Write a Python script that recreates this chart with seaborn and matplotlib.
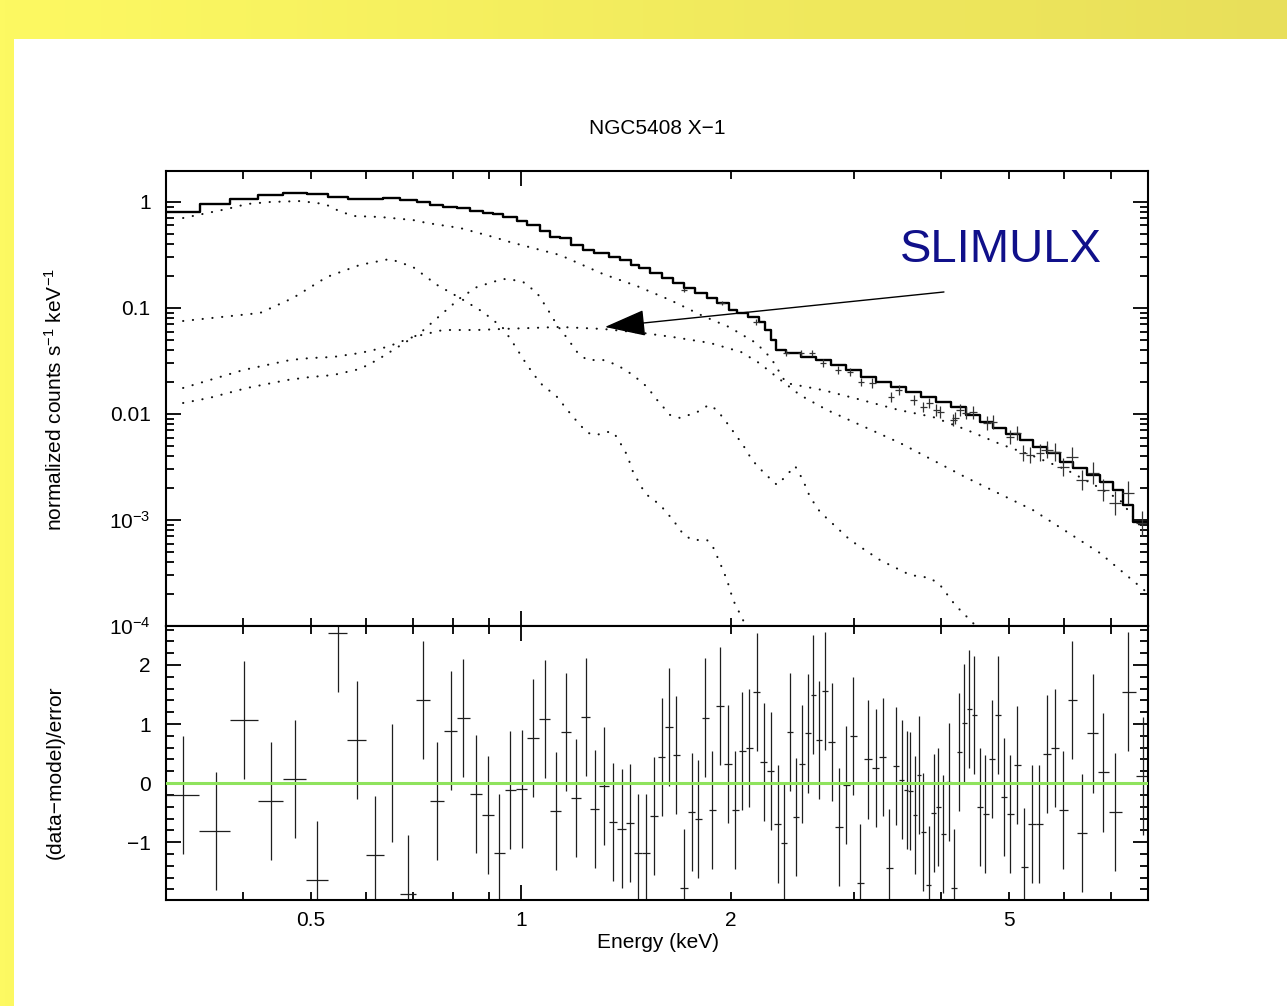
import numpy as np
import pandas as pd
import matplotlib
matplotlib.use("Agg")
import matplotlib.pyplot as plt
import seaborn as sns
from matplotlib.ticker import FixedLocator, FixedFormatter, FuncFormatter, MultipleLocator, NullFormatter
from matplotlib.patches import Rectangle
from matplotlib.colors import LinearSegmentedColormap

# ---------------- data ----------------
# total model, step histogram: bin edges (keV) and values (counts/s/keV)
total_edges = [0.310, 0.347, 0.383, 0.420, 0.456, 0.4935, 0.529, 0.565, 0.634, 0.671,
               0.710, 0.741, 0.773, 0.810, 0.845, 0.882, 0.912, 0.942, 0.987, 1.020,
               1.065, 1.100, 1.137, 1.179, 1.227, 1.272, 1.337, 1.386, 1.437, 1.476,
               1.530, 1.592, 1.651, 1.713, 1.775, 1.847, 1.909, 1.986, 2.039, 2.115,
               2.193, 2.237, 2.281, 2.319, 2.397, 2.518, 2.647, 2.781, 2.922, 3.070,
               3.226, 3.389, 3.561, 3.742, 3.932, 4.130, 4.340, 4.546, 4.746, 4.953,
               5.187, 5.414, 5.670, 5.918, 6.177, 6.468, 6.752, 7.047, 7.285, 7.530, 7.912]
total_values = [0.805, 0.957, 1.07, 1.16, 1.22, 1.19, 1.11, 1.07, 1.09, 1.04,
                1.0, 0.937, 0.897, 0.878, 0.823, 0.788, 0.770, 0.722, 0.662, 0.607,
                0.533, 0.468, 0.457, 0.393, 0.353, 0.330, 0.303, 0.284, 0.255, 0.239,
                0.214, 0.192, 0.172, 0.154, 0.138, 0.124, 0.111, 0.0959, 0.0897, 0.0822,
                0.0738, 0.0620, 0.0499, 0.0402, 0.0376, 0.0345, 0.0323, 0.0290, 0.0260, 0.0223,
                0.0201, 0.0180, 0.0161, 0.0145, 0.0130, 0.0116, 0.0098, 0.00841, 0.00743, 0.00648,
                0.00569, 0.00489, 0.00429, 0.00353, 0.0031, 0.00266, 0.00228, 0.00192, 0.00139, 0.00095]

# model components (dotted)
compA_E = [0.328, 0.379, 0.405, 0.437, 0.482, 0.510, 0.527, 0.545, 0.574, 0.628, 0.700, 0.733,
           0.818, 0.912, 0.964, 1.137, 1.311, 1.466, 1.635, 1.822, 1.986, 2.171, 2.281, 2.397,
           2.708, 3.070, 3.479, 3.893, 4.355, 4.857, 5.414, 6.056, 6.752, 7.214, 7.834]
compA_V = [0.706, 0.859, 0.957, 1.0, 1.02, 0.979, 0.937, 0.840, 0.738, 0.722, 0.676, 0.634,
           0.568, 0.468, 0.419, 0.316, 0.209, 0.161, 0.119, 0.0841, 0.0662, 0.0468, 0.0337, 0.0196,
           0.0168, 0.0136, 0.0109, 0.00937, 0.00706, 0.00521, 0.00402, 0.00296, 0.00200, 0.00154, 0.00077]

slim_E = [0.328, 0.358, 0.400, 0.467, 0.4985, 0.538, 0.588, 0.643, 0.700, 0.773, 0.865, 0.942,
          1.137, 1.311, 1.496, 1.651, 1.865, 2.066, 2.193, 2.334, 2.510, 2.745, 3.491, 4.355,
          5.414, 6.752, 7.834]
slim_V = [0.0176, 0.0209, 0.0260, 0.0323, 0.0337, 0.0345, 0.0376, 0.0429, 0.0532, 0.0620, 0.0620, 0.0634,
          0.0662, 0.0634, 0.0581, 0.0532, 0.0468, 0.0385, 0.0303, 0.0219, 0.0151, 0.0109, 0.00533, 0.00249,
          0.00124, 0.000488, 0.000215]

compB_E = [0.328, 0.4227, 0.471, 0.527, 0.588, 0.649, 0.700, 0.758, 0.818, 0.882, 0.942, 0.974,
           1.020, 1.065, 1.126, 1.175, 1.215, 1.247, 1.285, 1.319, 1.355, 1.377, 1.419, 1.447,
           1.491, 1.516, 1.582, 1.651, 1.707, 1.758, 1.847, 1.884, 1.928, 1.973, 2.013, 2.080, 2.13]
compB_V = [0.0754, 0.0897, 0.124, 0.196, 0.255, 0.290, 0.244, 0.165, 0.124, 0.0917, 0.0648, 0.0468,
           0.029, 0.0196, 0.0145, 0.0102, 0.00787, 0.00662, 0.00634, 0.00676, 0.00676, 0.00581, 0.0041, 0.00284,
           0.0020, 0.00172, 0.00139, 0.0010, 0.000738, 0.000648, 0.000648, 0.000556, 0.000393, 0.000272,
           0.000176, 0.000114, 0.000074]

compC_E = [0.328, 0.358, 0.405, 0.462, 0.4985, 0.538, 0.588, 0.622, 0.656, 0.717, 0.773, 0.818,
           0.865, 0.942, 0.974, 1.007, 1.054, 1.089, 1.126, 1.164, 1.203, 1.243, 1.311, 1.373,
           1.447, 1.516, 1.566, 1.635, 1.690, 1.787, 1.859, 1.909, 1.973, 2.080, 2.143, 2.229,
           2.327, 2.374, 2.470, 2.535, 2.594, 2.682, 2.961, 3.268, 3.609, 3.855, 3.984, 4.187, 4.472, 4.70]
compC_V = [0.0127, 0.0142, 0.0176, 0.0209, 0.0223, 0.0233, 0.0266, 0.0323, 0.0402, 0.0581, 0.0897, 0.124,
           0.158, 0.188, 0.184, 0.176, 0.139, 0.100, 0.0691, 0.0521, 0.0385, 0.0323, 0.0323, 0.0290,
           0.0233, 0.0180, 0.0136, 0.0098, 0.00917, 0.0104, 0.0122, 0.0109, 0.00822, 0.0051, 0.00368, 0.00278,
           0.00214, 0.00244, 0.00323, 0.00238, 0.00165, 0.00119, 0.000648, 0.000419, 0.000303, 0.000284,
           0.000244, 0.000158, 0.000102, 0.000075]

# data points visible in the upper panel
data_E = [1.713, 1.941, 2.171, 2.397, 2.518, 2.612, 2.708, 2.846, 2.961, 3.070,
          3.184, 3.389, 3.479, 3.656, 3.767, 3.842, 3.932, 3.984, 4.159, 4.187,
          4.256, 4.340, 4.442, 4.653, 4.746, 5.023, 5.136, 5.239, 5.361, 5.541,
          5.670, 5.821, 5.977, 6.157, 6.364, 6.598, 6.821, 7.096, 7.406, 7.759]
data_V = [0.148, 0.1115, 0.0738, 0.0376, 0.0376, 0.0376, 0.0303, 0.026, 0.0249, 0.0201,
          0.0196, 0.0145, 0.0168, 0.0136, 0.01164, 0.0127, 0.0109, 0.0104, 0.00875, 0.00917,
          0.0109, 0.0102, 0.0104, 0.00822, 0.00841, 0.00607, 0.00662, 0.00431, 0.00409, 0.00431,
          0.00458, 0.00438, 0.00316, 0.00395, 0.00239, 0.00278, 0.00192, 0.00145, 0.00181, 0.00093]
data_err_dex = [0.02, 0.02, 0.025, 0.03, 0.03, 0.03, 0.035, 0.035, 0.04, 0.04,
                0.045, 0.045, 0.045, 0.05, 0.05, 0.05, 0.055, 0.055, 0.055, 0.055,
                0.06, 0.06, 0.06, 0.065, 0.065, 0.07, 0.07, 0.075, 0.075, 0.08,
                0.08, 0.085, 0.085, 0.09, 0.095, 0.10, 0.10, 0.11, 0.11, 0.12]
data_halfwidth_dex = [0.004] * 10 + [0.005] * 10 + [0.006] * 10 + [0.008] * 10

# residuals (data-model)/error
res_E = [0.328, 0.365, 0.4015, 0.4384, 0.4746, 0.5107, 0.5462, 0.5815, 0.6179, 0.6533,
         0.6881, 0.7246, 0.7583, 0.7940, 0.8268, 0.8619, 0.8978, 0.9309, 0.9643, 1.002,
         1.041, 1.082, 1.121, 1.159, 1.198, 1.238, 1.276, 1.315, 1.355, 1.394,
         1.433, 1.473, 1.512, 1.551, 1.591, 1.629, 1.669, 1.714, 1.756, 1.795,
         1.835, 1.879, 1.930, 1.980, 2.026, 2.076, 2.124, 2.178, 2.229, 2.279,
         2.332, 2.384, 2.429, 2.475, 2.524, 2.575, 2.623, 2.675, 2.726, 2.787,
         2.855, 2.922, 2.993, 3.063, 3.139, 3.223, 3.298, 3.371, 3.446, 3.515,
         3.570, 3.609, 3.669, 3.721, 3.767, 3.838, 3.901, 3.962, 4.027, 4.100,
         4.173, 4.246, 4.312, 4.384, 4.457, 4.546, 4.627, 4.725, 4.819, 4.920,
         5.023, 5.136, 5.262, 5.391, 5.528, 5.670, 5.815, 5.983, 6.163, 6.369,
         6.592, 6.812, 7.101, 7.413, 7.777]
res_R = [-0.20, -0.81, 1.07, -0.30, 0.07, -1.64, 2.54, 0.73, -1.22, 0.00,
         -1.88, 1.41, -0.31, 0.89, 1.10, -0.18, -0.54, -1.19, -0.11, -0.10,
         0.76, 1.08, -0.47, 0.86, -0.26, 1.12, -0.44, -0.05, -0.66, -0.77,
         -0.67, -1.18, -1.19, -0.55, 0.44, 0.95, 0.48, -1.77, -0.49, -0.61,
         1.11, -0.46, 1.31, 0.33, -0.46, 0.54, 0.60, 1.54, 0.36, 0.21,
         -0.70, -1.02, 0.86, -0.58, 0.32, 0.84, 1.50, 0.73, 1.56, 0.69,
         -0.74, -0.03, 0.79, -1.70, 0.40, 0.26, 0.44, -1.44, 0.29, 0.06,
         -0.11, -0.14, -0.54, 0.14, -0.83, -1.73, -0.50, -0.40, -0.86, 0.02,
         -1.78, 0.53, 1.01, 1.26, 1.16, -0.41, -0.52, 0.41, 1.16, -0.24,
         -0.52, 0.30, -1.42, -0.70, -0.70, 0.50, 0.60, -0.46, 1.40, -0.85,
         0.84, 0.18, -0.49, 1.55, 0.12]
res_err = 1.0

x_major = [1.0]
x_minor = [0.4, 0.5, 0.6, 0.7, 0.8, 0.9, 2, 3, 4, 5, 6, 7]
x_labels = {0.5: "0.5", 1.0: "1", 2: "2", 5: "5"}
y_top_ticks = [1e-4, 1e-3, 1e-2, 1e-1, 1]
y_top_labels = [r"$\mathregular{10^{-4}}$", r"$\mathregular{10^{-3}}$", "0.01", "0.1", "1"]
y_bot_ticks = [-1, 0, 1, 2]

# ---------------- style ----------------
sns.set_theme(style="ticks")
plt.rcParams["font.family"] = ["Liberation Sans", "DejaVu Sans"]
plt.rcParams["mathtext.fontset"] = "custom"
plt.rcParams["mathtext.rm"] = "Liberation Sans"
plt.rcParams["mathtext.it"] = "Liberation Sans:italic"
plt.rcParams["mathtext.bf"] = "Liberation Sans:bold"
plt.rcParams["axes.unicode_minus"] = True
plt.rcParams["text.color"] = "black"
plt.rcParams["axes.labelcolor"] = "black"
plt.rcParams["xtick.color"] = "black"
plt.rcParams["ytick.color"] = "black"

W, H = 1287, 1006
fig = plt.figure(figsize=(W / 100, H / 100), dpi=100, facecolor="white")

# yellow slide background
bg = fig.add_axes([0, 0, 1, 1], zorder=-10)
grad = np.linspace(0, 1, 256)[None, :]
cmap = LinearSegmentedColormap.from_list("ybg", ["#fdf962", "#e8df5a"])
bg.imshow(grad, aspect="auto", cmap=cmap, extent=[0, 1, 0, 1])
bg.add_patch(Rectangle((14 / W, 0), 1, 1 - 39 / H, facecolor="white", edgecolor="none"))
bg.set_xlim(0, 1)
bg.set_ylim(0, 1)
bg.axis("off")

L, R = 166, 1148
ax1 = fig.add_axes([L / W, 1 - 626 / H, (R - L) / W, (626 - 171) / H])
ax2 = fig.add_axes([L / W, 1 - 900 / H, (R - L) / W, (900 - 626) / H])
for ax in (ax1, ax2):
    ax.set_facecolor("white")
    ax.set_xscale("log")
ax1.set_yscale("log")

dot_kw = dict(color="#111111", lw=1.5, linestyle=(0, (0.1, 4.6)), dash_capstyle="round",
              estimator=None, sort=False, legend=False)
for E, V in [(compA_E, compA_V), (slim_E, slim_V), (compB_E, compB_V), (compC_E, compC_V)]:
    sns.lineplot(x=E, y=V, ax=ax1, **dot_kw)

step_df = pd.DataFrame({"E": total_edges, "V": total_values + [total_values[-1]]})
sns.lineplot(data=step_df, x="E", y="V", ax=ax1, color="black", lw=1.7,
             drawstyle="steps-post", estimator=None, sort=False, legend=False)

dE = np.array(data_E)
dV = np.array(data_V)
de = np.array(data_err_dex)
dh = np.array(data_halfwidth_dex)
ax1.errorbar(dE, dV, yerr=[dV - dV * 10 ** (-de), dV * 10 ** de - dV],
             xerr=[dE - dE * 10 ** (-dh), dE * 10 ** dh - dE],
             fmt="none", ecolor="#333333", elinewidth=0.9, capsize=0, zorder=2)

# residuals
rE = np.array(res_E)
logE = np.log10(rE)
mids = 10 ** ((logE[1:] + logE[:-1]) / 2)
lo_edges = np.concatenate([[total_edges[0]], mids])
hi_edges = np.concatenate([mids, [total_edges[-1]]])
ax2.errorbar(rE, res_R, yerr=res_err, xerr=[rE - lo_edges, hi_edges - rE],
             fmt="none", ecolor="#1e1e1e", elinewidth=0.9, capsize=0, zorder=2)
ax2.axhline(0, color="#8fe35d", lw=2.2, zorder=3)

# axes limits and ticks
ax1.set_xlim(total_edges[0], total_edges[-1])
ax2.set_xlim(total_edges[0], total_edges[-1])
ax1.set_ylim(1e-4, 1.96)
ax2.set_ylim(-1.98, 2.66)

def xfmt(v, pos):
    for k, s in x_labels.items():
        if abs(v - k) < 1e-6:
            return s
    return ""

for ax in (ax1, ax2):
    ax.xaxis.set_major_locator(FixedLocator(x_major))
    ax.xaxis.set_minor_locator(FixedLocator(x_minor))
    ax.xaxis.set_major_formatter(FuncFormatter(xfmt))
    ax.xaxis.set_minor_formatter(FuncFormatter(xfmt))
    ax.tick_params(which="both", direction="in", top=True, right=True, colors="black",
                   labelcolor="black", labelsize=15, width=1.3)
    ax.tick_params(which="major", length=11)
    ax.tick_params(which="minor", length=6)
    ax.tick_params(axis="y", which="both", pad=11)
    ax.tick_params(axis="x", which="both", pad=8)
    for s in ax.spines.values():
        s.set_linewidth(1.5)
        s.set_color("black")
    ax.set_xlabel("")
    ax.set_ylabel("")
    ax.grid(False)

ax1.tick_params(axis="x", which="both", labelbottom=False)
ax1.yaxis.set_major_locator(FixedLocator(y_top_ticks))
ax1.yaxis.set_major_formatter(FixedFormatter(y_top_labels))
ax1.yaxis.set_minor_locator(FixedLocator([m * 10.0 ** e for e in range(-4, 1) for m in range(2, 10)]))
ax1.yaxis.set_minor_formatter(NullFormatter())

ax2.yaxis.set_major_locator(FixedLocator(y_bot_ticks))
ax2.yaxis.set_minor_locator(MultipleLocator(0.2))
ax2.yaxis.set_major_formatter(FuncFormatter(lambda v, p: f"{int(round(v))}".replace("-", "\u2212")))

# annotation
ax1.annotate("", xy=(1.319, 0.0662), xytext=(4.036, 0.1416),
             arrowprops=dict(arrowstyle="-|>,head_length=1.3,head_width=0.42", mutation_scale=20,
                             color="black", lw=1.0, shrinkA=0, shrinkB=0), zorder=5)
ax1.text(4.872, 0.352, "SLIMULX", color="#10108a", fontsize=34, ha="center", va="center")

# texts
fig.text(657 / W, 1 - 128 / H, "NGC5408 X\u22121", ha="center", va="center", fontsize=15, color="black")
fig.text(55 / W, 1 - 400 / H, r"normalized counts s$\mathregular{^{-1}}$ keV$\mathregular{^{-1}}$",
         rotation=90, ha="center", va="center", fontsize=15, color="black")
fig.text(55 / W, 1 - 772 / H, "(data\u2212model)/error", rotation=90, ha="center", va="center",
         fontsize=15, color="black")
fig.text(658 / W, 1 - 942 / H, "Energy (keV)", ha="center", va="center", fontsize=15, color="black")

fig.savefig("out.png", dpi=100, facecolor=fig.get_facecolor())
